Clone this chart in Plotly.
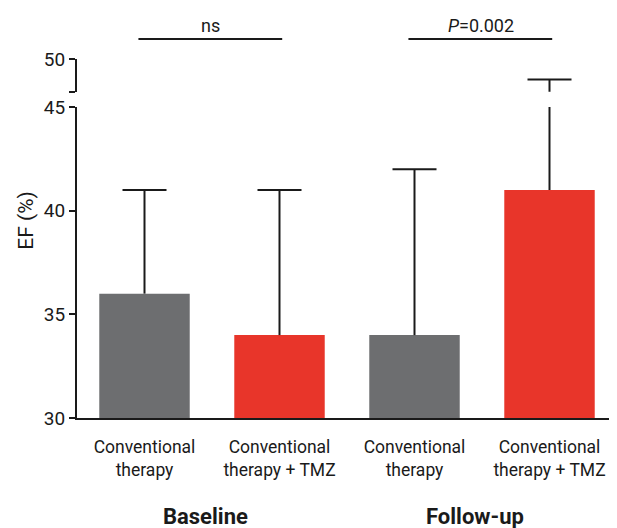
import plotly.graph_objects as go

# ---- data ----
groups = ["Baseline", "Follow-up"]
group_label_x = [0.45, 2.45]
categories = [
    "Conventional<br>therapy",
    "Conventional<br>therapy + TMZ",
    "Conventional<br>therapy",
    "Conventional<br>therapy + TMZ",
]
ef_mean = [36, 34, 34, 41]
ef_sd = [5, 7, 8, 8]
bar_colors = ["#6d6e70", "#e8352a", "#6d6e70", "#e8352a"]
y_ticks_lower = [30, 35, 40, 45]
y_ticks_upper = [50]
comparisons = [(0, 1, "ns"), (2, 3, "<i>P</i>=0.002")]

FONT = "Roboto, Liberation Sans, sans-serif"
x_pos = list(range(len(categories)))

fig = go.Figure()

fig.add_trace(go.Bar(
    x=x_pos, y=ef_mean, marker=dict(color=bar_colors, line=dict(width=0)),
    width=0.67, xaxis="x", yaxis="y", showlegend=False, hoverinfo="skip",
))

cap = 0.163
for yax in ["y", "y2"]:
    ex, ey = [], []
    for i, (m, s) in enumerate(zip(ef_mean, ef_sd)):
        ex += [i, i, None, i - cap, i + cap, None]
        ey += [m, m + s, None, m + s, m + s, None]
    fig.add_trace(go.Scatter(
        x=ex, y=ey, mode="lines", line=dict(color="#1a1a1a", width=2),
        xaxis="x", yaxis=yax, showlegend=False, hoverinfo="skip",
    ))

lower_top = 0.866
upper_bottom = 0.909
upper_min = 48.4

fig.update_layout(
    width=609, height=520,
    margin=dict(l=69, r=0, t=51, b=110),
    paper_bgcolor="white", plot_bgcolor="white",
    font=dict(family=FONT, size=18, color="#1a1a1a"),
    xaxis=dict(
        range=[-0.5, 3.5], tickvals=x_pos, ticktext=categories,
        showline=True, linecolor="#1a1a1a", linewidth=2, ticks="",
        showgrid=False, zeroline=False, anchor="y",
        tickfont=dict(size=17.5), ticklabelstandoff=12,
        ticklabeloverflow="allow",
    ),
    yaxis=dict(
        domain=[0, lower_top], range=[30, 45], tickvals=y_ticks_lower,
        showline=True, linecolor="#1a1a1a", linewidth=2,
        ticks="outside", ticklen=6, tickwidth=2, tickcolor="#1a1a1a",
        showgrid=False, zeroline=False, anchor="x",
        tickfont=dict(size=19),
    ),
    yaxis2=dict(
        domain=[upper_bottom, 1], range=[upper_min, 50],
        tickvals=[upper_min] + y_ticks_upper,
        ticktext=[""] + [str(v) for v in y_ticks_upper],
        showline=True, linecolor="#1a1a1a", linewidth=2,
        ticks="outside", ticklen=6, tickwidth=2, tickcolor="#1a1a1a",
        showgrid=False, zeroline=False, anchor="x",
        tickfont=dict(size=19),
    ),
)

# y axis title
fig.add_annotation(
    text="EF (%)", x=-0.096, y=0.55, xref="paper", yref="paper",
    textangle=-90, showarrow=False, font=dict(size=21),
    xanchor="center", yanchor="middle",
)

# group labels
for gx, g in zip(group_label_x, groups):
    fig.add_annotation(
        text="<b>" + g + "</b>", x=gx, y=-0.273, xref="x", yref="paper",
        showarrow=False, font=dict(size=22), xanchor="center", yanchor="middle",
    )

# significance brackets
sig_y = 1.0557
for a, b, label in comparisons:
    fig.add_shape(
        type="line", x0=a - 0.045, x1=b + 0.02, y0=sig_y, y1=sig_y,
        xref="x", yref="paper", line=dict(color="#1a1a1a", width=2),
    )
    fig.add_annotation(
        text=label, x=(a + b) / 2 - 0.01, y=sig_y, xref="x", yref="paper",
        showarrow=False, yanchor="bottom", yshift=1, font=dict(size=18),
    )

fig.write_html("out.html")
